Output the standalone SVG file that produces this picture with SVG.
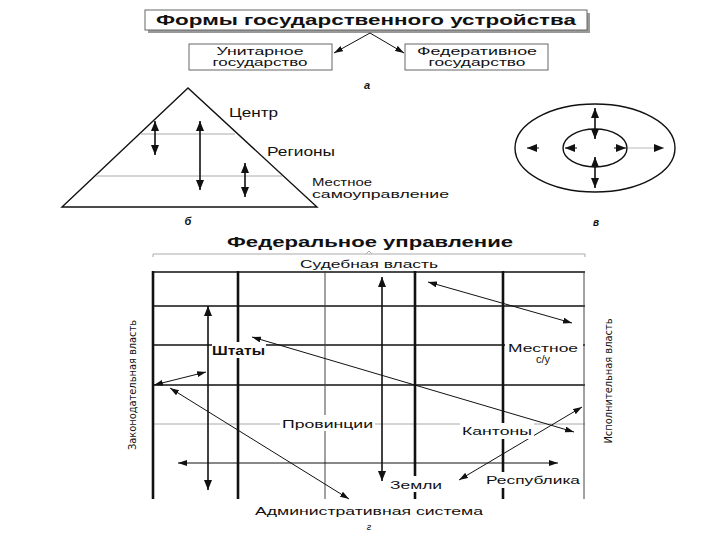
<svg xmlns="http://www.w3.org/2000/svg" width="720" height="540" viewBox="0 0 720 540">
<style>
text{font-family:"Liberation Sans",Arial,sans-serif;fill:#111}
.b{font-weight:bold}
.lbl{font-size:12px}
.sm{font-size:11px}
.box{fill:#fff;stroke:#666;stroke-width:1}
.thin{stroke:#111;stroke-width:1;fill:none}
.gray{stroke:#aaa;stroke-width:1;fill:none}
.shape{stroke:#111;stroke-width:1.4;fill:none}
.gridk{stroke:#111;stroke-width:2.6}
.gridm{stroke:#111;stroke-width:1.5}
.gridt{stroke:#444;stroke-width:1}
.arr{stroke:#111;stroke-width:1.6;fill:none}
.arrt{stroke:#111;stroke-width:1;fill:none}
.bg{fill:#fff}
.vt{font-family:"DejaVu Sans Condensed","Liberation Sans Narrow","Liberation Sans",sans-serif;font-size:11px}
</style>
<defs>
<marker id="ah" markerUnits="userSpaceOnUse" markerWidth="10" markerHeight="8" refX="10" refY="4" orient="auto-start-reverse"><path d="M0,0 L10,4 L0,8 z" fill="#111"/></marker>
<marker id="as" markerUnits="userSpaceOnUse" markerWidth="9" markerHeight="6" refX="9" refY="3" orient="auto-start-reverse"><path d="M0,0 L9,3 L0,6 z" fill="#111"/></marker>
</defs>
<rect width="720" height="540" fill="#fff"/>

<!-- Part a -->
<g id="title">
<rect x="148" y="13" width="442" height="20" fill="#999"/>
<rect x="145" y="10" width="442" height="20" class="box"/>
<text x="366" y="25" class="b" font-size="15" text-anchor="middle" textLength="420" lengthAdjust="spacingAndGlyphs">Формы государственного устройства</text>
</g>
<g id="unitary">
<rect x="189" y="44" width="143" height="26" class="box"/>
<text x="260" y="55" class="sm" text-anchor="middle" textLength="87" lengthAdjust="spacingAndGlyphs">Унитарное</text>
<text x="260" y="66" class="sm" text-anchor="middle" textLength="95" lengthAdjust="spacingAndGlyphs">государство</text>
</g>
<g id="federative">
<rect x="405" y="44" width="143" height="26" class="box"/>
<text x="477" y="55" class="sm" text-anchor="middle" textLength="120" lengthAdjust="spacingAndGlyphs">Федеративное</text>
<text x="477" y="66" class="sm" text-anchor="middle" textLength="97" lengthAdjust="spacingAndGlyphs">государство</text>
</g>
<text x="367" y="89" font-size="11" font-style="italic" class="b" text-anchor="middle">а</text>

<!-- Part b: pyramid -->
<g id="pyramid">
<path d="M188,88 L62,207 L317,207 Z" class="shape"/>
<line x1="141" y1="134" x2="235" y2="134" class="gray"/>
<line x1="96" y1="176" x2="282" y2="176" class="gray"/>
<text x="229" y="117" class="lbl" textLength="49" lengthAdjust="spacingAndGlyphs">Центр</text>
<text x="267" y="156" class="lbl" textLength="68" lengthAdjust="spacingAndGlyphs">Регионы</text>
<text x="312" y="186" class="sm" textLength="60" lengthAdjust="spacingAndGlyphs">Местное</text>
<text x="312" y="198" class="sm" textLength="137" lengthAdjust="spacingAndGlyphs">самоуправление</text>
<text x="188" y="225" font-size="11" font-style="italic" class="b" text-anchor="middle">б</text>
</g>

<!-- Part c: circles -->
<g id="circles">
<ellipse cx="595" cy="148" rx="80" ry="44" class="shape"/>
<ellipse cx="595" cy="148" rx="32" ry="19" class="shape"/>
<text x="596" y="226" font-size="10" font-style="italic" class="b" text-anchor="middle">в</text>
</g>

<!-- Part d: grid -->
<g id="federal-header">
<text x="370" y="247" class="b" font-size="14" text-anchor="middle" textLength="286" lengthAdjust="spacingAndGlyphs">Федеральное управление</text>
<path d="M153,257 V254 H585 V257 M366,254 L369,251 L372,254" class="gray" stroke="#777"/>
<text x="369" y="268" class="sm" text-anchor="middle" textLength="138" lengthAdjust="spacingAndGlyphs">Судебная власть</text>
</g>
<g id="grid">
<line x1="153" y1="272" x2="585" y2="272" class="gridm"/>
<line x1="153" y1="306" x2="585" y2="306" class="gridm"/>
<line x1="153" y1="345" x2="585" y2="345" class="gridm"/>
<line x1="153" y1="385" x2="585" y2="385" class="gridm"/>
<line x1="153" y1="424" x2="585" y2="424" class="gray"/>
<line x1="153" y1="271" x2="153" y2="499" class="gridk"/>
<line x1="238" y1="271" x2="238" y2="499" class="gridk"/>
<line x1="325" y1="271" x2="325" y2="499" class="gridt"/>
<line x1="415" y1="271" x2="415" y2="499" class="gridk"/>
<line x1="503" y1="271" x2="503" y2="499" class="gridk"/>
<line x1="584" y1="271" x2="584" y2="499" class="gridt"/>
</g>

<g id="connectors">
<line x1="370" y1="33" x2="334" y2="53" class="arrt" marker-end="url(#as)"/>
<line x1="370" y1="33" x2="404" y2="53" class="arrt" marker-end="url(#as)"/>
<line x1="155" y1="121" x2="155" y2="155" class="arr" marker-start="url(#ah)" marker-end="url(#ah)"/>
<line x1="200" y1="121" x2="200" y2="190" class="arr" marker-start="url(#ah)" marker-end="url(#ah)"/>
<line x1="245" y1="163" x2="245" y2="197" class="arr" marker-start="url(#ah)" marker-end="url(#ah)"/>
<line x1="595" y1="108" x2="595" y2="139" class="arr" marker-start="url(#ah)" marker-end="url(#ah)"/>
<line x1="595" y1="157" x2="595" y2="188" class="arr" marker-start="url(#ah)" marker-end="url(#ah)"/>
<line x1="539" y1="148" x2="527" y2="148" class="arrt" marker-end="url(#ah)"/>
<line x1="577" y1="148" x2="565" y2="148" class="arrt" marker-end="url(#ah)"/>
<line x1="614" y1="148" x2="626" y2="148" class="arrt" marker-end="url(#ah)"/>
<line x1="628" y1="148" x2="664" y2="148" stroke="#bbb" stroke-width="1" marker-end="url(#ah)"/>
<line x1="208" y1="306" x2="208" y2="490" class="arr" stroke-width="2" marker-start="url(#ah)" marker-end="url(#ah)"/>
<line x1="382" y1="277" x2="382" y2="481" class="arr" stroke-width="2" marker-start="url(#ah)" marker-end="url(#ah)"/>
<line x1="178" y1="463" x2="558" y2="463" class="arrt" stroke-width="1.2" marker-start="url(#as)" marker-end="url(#as)"/>
<line x1="428" y1="282" x2="572" y2="323" class="arrt" marker-start="url(#as)" marker-end="url(#as)"/>
<line x1="252" y1="337" x2="574" y2="432" class="arrt" marker-start="url(#as)" marker-end="url(#as)"/>
<line x1="154" y1="385" x2="206" y2="372" class="arrt" marker-start="url(#as)" marker-end="url(#as)"/>
<line x1="170" y1="388" x2="349" y2="499" class="arrt" marker-start="url(#as)" marker-end="url(#as)"/>
<line x1="459" y1="480" x2="582" y2="407" class="arrt" marker-start="url(#as)" marker-end="url(#as)"/>
</g>

<g id="labels">
<g id="shtaty"><rect x="212" y="342" width="54" height="16" class="bg"/><text x="212" y="355" class="b" font-size="12" textLength="53" lengthAdjust="spacingAndGlyphs">Штаты</text></g>
<g id="mestnoe"><rect x="505" y="340" width="78" height="25" class="bg"/><text x="543" y="352" class="sm" text-anchor="middle" textLength="70" lengthAdjust="spacingAndGlyphs">Местное</text><text x="543" y="363" class="sm" text-anchor="middle">с/у</text></g>
<g id="provincii"><rect x="280" y="415" width="95" height="16" class="bg"/><text x="282" y="428" class="sm" textLength="91" lengthAdjust="spacingAndGlyphs">Провинции</text></g>
<g id="kantony"><rect x="460" y="423" width="74" height="16" class="bg"/><text x="462" y="435" class="sm" textLength="70" lengthAdjust="spacingAndGlyphs">Кантоны</text></g>
<g id="zemli"><rect x="389" y="476" width="55" height="16" class="bg"/><text x="390" y="489" class="sm" textLength="52" lengthAdjust="spacingAndGlyphs">Земли</text></g>
<g id="respublika"><rect x="484" y="472" width="98" height="16" class="bg"/><text x="486" y="484" class="sm" textLength="94" lengthAdjust="spacingAndGlyphs">Республика</text></g>
<text x="369" y="515" class="sm" text-anchor="middle" textLength="228" lengthAdjust="spacingAndGlyphs">Административная система</text>
<text x="369" y="530" font-size="9" font-style="italic" text-anchor="middle">г</text>
<text class="vt" transform="translate(136,385) rotate(-90)" text-anchor="middle" textLength="130" lengthAdjust="spacingAndGlyphs">Законодательная власть</text>
<text class="vt" transform="translate(612,381) rotate(-90)" text-anchor="middle" textLength="125" lengthAdjust="spacingAndGlyphs">Исполнительная власть</text>
</g>
</svg>
